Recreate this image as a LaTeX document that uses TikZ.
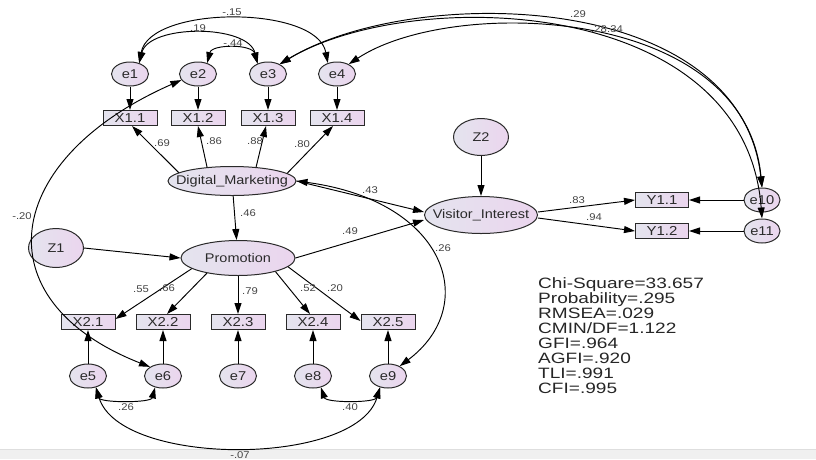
\documentclass[tikz,border=0pt]{standalone}
\usepackage{fontspec}
\setmainfont{Liberation Sans}
\newfontfamily\lblfont[FakeStretch=1.15]{Liberation Sans}
\newfontfamily\statfont[FakeStretch=1.27]{Liberation Sans}
\usetikzlibrary{arrows.meta,shapes.geometric}
\definecolor{lavL}{HTML}{E4E4EE}
\definecolor{lavR}{HTML}{EBD5EE}
\definecolor{edgec}{HTML}{2A2A2A}
\definecolor{txtc}{HTML}{2A2A2A}
\definecolor{coefc}{HTML}{444444}
\definecolor{bandc}{HTML}{F0F0F0}
\definecolor{bandline}{HTML}{DEDEDE}
\newcommand{\zb}[1]{\makebox[0pt]{#1}}
\tikzset{
  basenode/.style={draw=edgec, line width=1pt, left color=lavL, right color=lavR, inner sep=0pt, text=txtc},
  errnode/.style={basenode, ellipse, minimum width=37pt, minimum height=24pt, font=\lblfont\fontsize{12.8}{13}\selectfont},
  latnode/.style={basenode, ellipse, font=\lblfont\fontsize{12.6}{13}\selectfont},
  obsnode/.style={basenode, rectangle, minimum width=54pt, minimum height=15pt, font=\lblfont\fontsize{13}{13}\selectfont},
  regarrow/.style={draw=black, line width=0.95pt, ->},
  covarrow/.style={draw=black, line width=0.95pt, <->},
  coef/.style={font=\lblfont\fontsize{9.8}{10}\selectfont, text=coefc, inner sep=0pt},
  statline/.style={font=\statfont\fontsize{15}{15}\selectfont, text=black!85, inner sep=0pt, anchor=base west}
}
\begin{document}
\begin{tikzpicture}[x=1pt,y=1pt,>={Triangle[length=11pt,width=7pt]}]
\path[use as bounding box, fill=white] (0,0) rectangle (816,-459);
\fill[bandc] (0,-449.5) rectangle (816,-459);
\draw[bandline, line width=0.6pt] (0,-449.5) -- (816,-449.5);

% latent variables
\node[latnode, minimum width=128pt, minimum height=29pt] (DM) at (232,-181) {\zb{Digital\_Marketing}};
\node[latnode, minimum width=114pt, minimum height=35pt] (PR) at (238,-258) {\zb{Promotion}};
\node[latnode, minimum width=113pt, minimum height=37pt] (VI) at (481,-215) {\zb{Visitor\_Interest}};
\node[latnode, minimum width=55pt, minimum height=39pt] (Z1) at (56,-248) {\zb{Z1}};
\node[latnode, minimum width=55pt, minimum height=37pt] (Z2) at (481,-137) {\zb{Z2}};

% top indicators
\node[errnode] (e1) at (130,-74) {\zb{e1}};
\node[errnode] (e2) at (198,-74) {\zb{e2}};
\node[errnode] (e3) at (268,-74) {\zb{e3}};
\node[errnode] (e4) at (337,-74) {\zb{e4}};
\node[obsnode] (X11) at (130,-118) {X1.1};
\node[obsnode] (X12) at (198,-118) {X1.2};
\node[obsnode] (X13) at (268,-118) {X1.3};
\node[obsnode] (X14) at (337,-118) {X1.4};

% bottom indicators
\node[obsnode] (X21) at (88,-322) {X2.1};
\node[obsnode] (X22) at (163,-322) {X2.2};
\node[obsnode] (X23) at (238,-322) {X2.3};
\node[obsnode] (X24) at (313,-322) {X2.4};
\node[obsnode] (X25) at (388,-322) {X2.5};
\node[errnode] (e5) at (88,-376) {\zb{e5}};
\node[errnode] (e6) at (163,-376) {\zb{e6}};
\node[errnode] (e7) at (238,-376) {\zb{e7}};
\node[errnode] (e8) at (313,-376) {\zb{e8}};
\node[errnode] (e9) at (388,-376) {\zb{e9}};

% right indicators
\node[obsnode, minimum width=53pt] (Y11) at (662,-200) {Y1.1};
\node[obsnode, minimum width=53pt] (Y12) at (662,-231) {Y1.2};
\node[errnode, minimum width=36pt, minimum height=24pt] (e10) at (762,-200) {\zb{e10}};
\node[errnode, minimum width=36pt, minimum height=24pt] (e11) at (762,-231) {\zb{e11}};

% error -> indicator
\draw[regarrow] (e1) -- (X11);
\draw[regarrow] (e2) -- (X12);
\draw[regarrow] (e3) -- (X13);
\draw[regarrow] (e4) -- (X14);
\draw[regarrow] (e5) -- (X21);
\draw[regarrow] (e6) -- (X22);
\draw[regarrow] (e7) -- (X23);
\draw[regarrow] (e8) -- (X24);
\draw[regarrow] (e9) -- (X25);
\draw[regarrow] (e10) -- (Y11);
\draw[regarrow] (e11) -- (Y12);

% loadings
\draw[regarrow] (DM.171) -- ([xshift=2pt]X11.south);
\draw[regarrow] (DM.151) -- (X12.south);
\draw[regarrow] (DM.30) -- ([xshift=-2pt]X13.south);
\draw[regarrow] (DM.8) -- ([xshift=-4pt]X14.south);
\draw[regarrow] (PR.193) -- ([yshift=3pt]X21.east);
\draw[regarrow] (PR.206) -- ([xshift=4pt]X22.north);
\draw[regarrow] (PR) -- (X23);
\draw[regarrow] (PR.340) -- ([xshift=-3pt]X24.north);
\draw[regarrow] (PR.350) -- ([yshift=1pt]X25.west);
\draw[regarrow] ([yshift=3pt]VI.east) -- (Y11.west);
\draw[regarrow] ([yshift=-3pt]VI.east) -- (Y12.west);

% structural paths
\draw[regarrow] (DM) -- (PR);
\draw[regarrow] (DM.east) -- ([yshift=3pt]VI.west);
\draw[regarrow] (PR.east) -- ([yshift=-5pt]VI.west);
\draw[regarrow] (Z1.east) -- (PR.west);
\draw[regarrow] (Z2) -- (VI);

% covariances
\draw[covarrow] (e1.50) .. controls (150,-5) and (317,-5) .. (e4.130);
\draw[covarrow] (e1.50) .. controls (149,-24) and (248,-24) .. (e3.135);
\draw[covarrow] (e2.50) .. controls (212,-44) and (252,-44) .. (e3.135);
\draw[covarrow] (e3.40) .. controls (412,16) and (740,12) .. (e10.north);
\draw[covarrow] (e3.40) .. controls (410,14) and (745,6) .. (e11.north);
\draw[covarrow] (e4.40) .. controls (452,4) and (745,-5) .. (e10.north);
\draw[covarrow] (e2.200) .. controls (2,-159) and (-20,-300) .. (e6.145);
\draw[covarrow] (DM.east) .. controls (446,-201) and (481,-305) .. (e9.40);
\draw[covarrow] (e5.-55) .. controls (100,-403) and (151,-403) .. (e6.235);
\draw[covarrow] (e8.-55) .. controls (326,-403) and (375,-403) .. (e9.235);
\draw[covarrow] (e5.-55) .. controls (120,-467) and (356,-467) .. (e9.235);

% coefficients
\node[coef] (c69) at (162,-143) {.69};
\node[coef] (c86) at (214,-141) {.86};
\node[coef] (c88) at (255,-141) {.88};
\node[coef] (c80) at (302,-144) {.80};
\node[coef] (c15) at (232,-12) {-.15};
\node[coef] (c19) at (198,-28) {.19};
\node[coef] (c44) at (233,-43) {-.44};
\node[coef] (c29) at (578,-14) {.29};
\node[coef] (c28) at (599,-29) {.28};
\node[coef] (c34) at (615,-29) {.34};
\node[coef] (c43) at (370,-190) {.43};
\node[coef] (c46) at (248,-213) {.46};
\node[coef] (c49) at (350,-231) {.49};
\node[coef] (c26a) at (443,-248) {.26};
\node[coef] (c20a) at (22,-216) {-.20};
\node[coef] (c83) at (577,-200) {.83};
\node[coef] (c94) at (594,-217) {.94};
\node[coef] (c55) at (141,-289) {.55};
\node[coef] (c66) at (167,-288) {.66};
\node[coef] (c79) at (250,-291) {.79};
\node[coef] (c52) at (308,-288) {.52};
\node[coef] (c20b) at (335,-288) {.20};
\node[coef] (c26b) at (126,-407) {.26};
\node[coef] (c40) at (350,-407) {.40};
\node[coef] (c07) at (240,-455) {-.07};

% fit statistics
\node[statline] (s1) at (538,-288.5) {Chi-Square=33.657};
\node[statline] (s2) at (538,-303.5) {Probability=.295};
\node[statline] (s3) at (538,-318.5) {RMSEA=.029};
\node[statline] (s4) at (538,-333.5) {CMIN/DF=1.122};
\node[statline] (s5) at (538,-348.5) {GFI=.964};
\node[statline] (s6) at (538,-363.5) {AGFI=.920};
\node[statline] (s7) at (538,-378.5) {TLI=.991};
\node[statline] (s8) at (538,-393.5) {CFI=.995};
\end{tikzpicture}
\end{document}
